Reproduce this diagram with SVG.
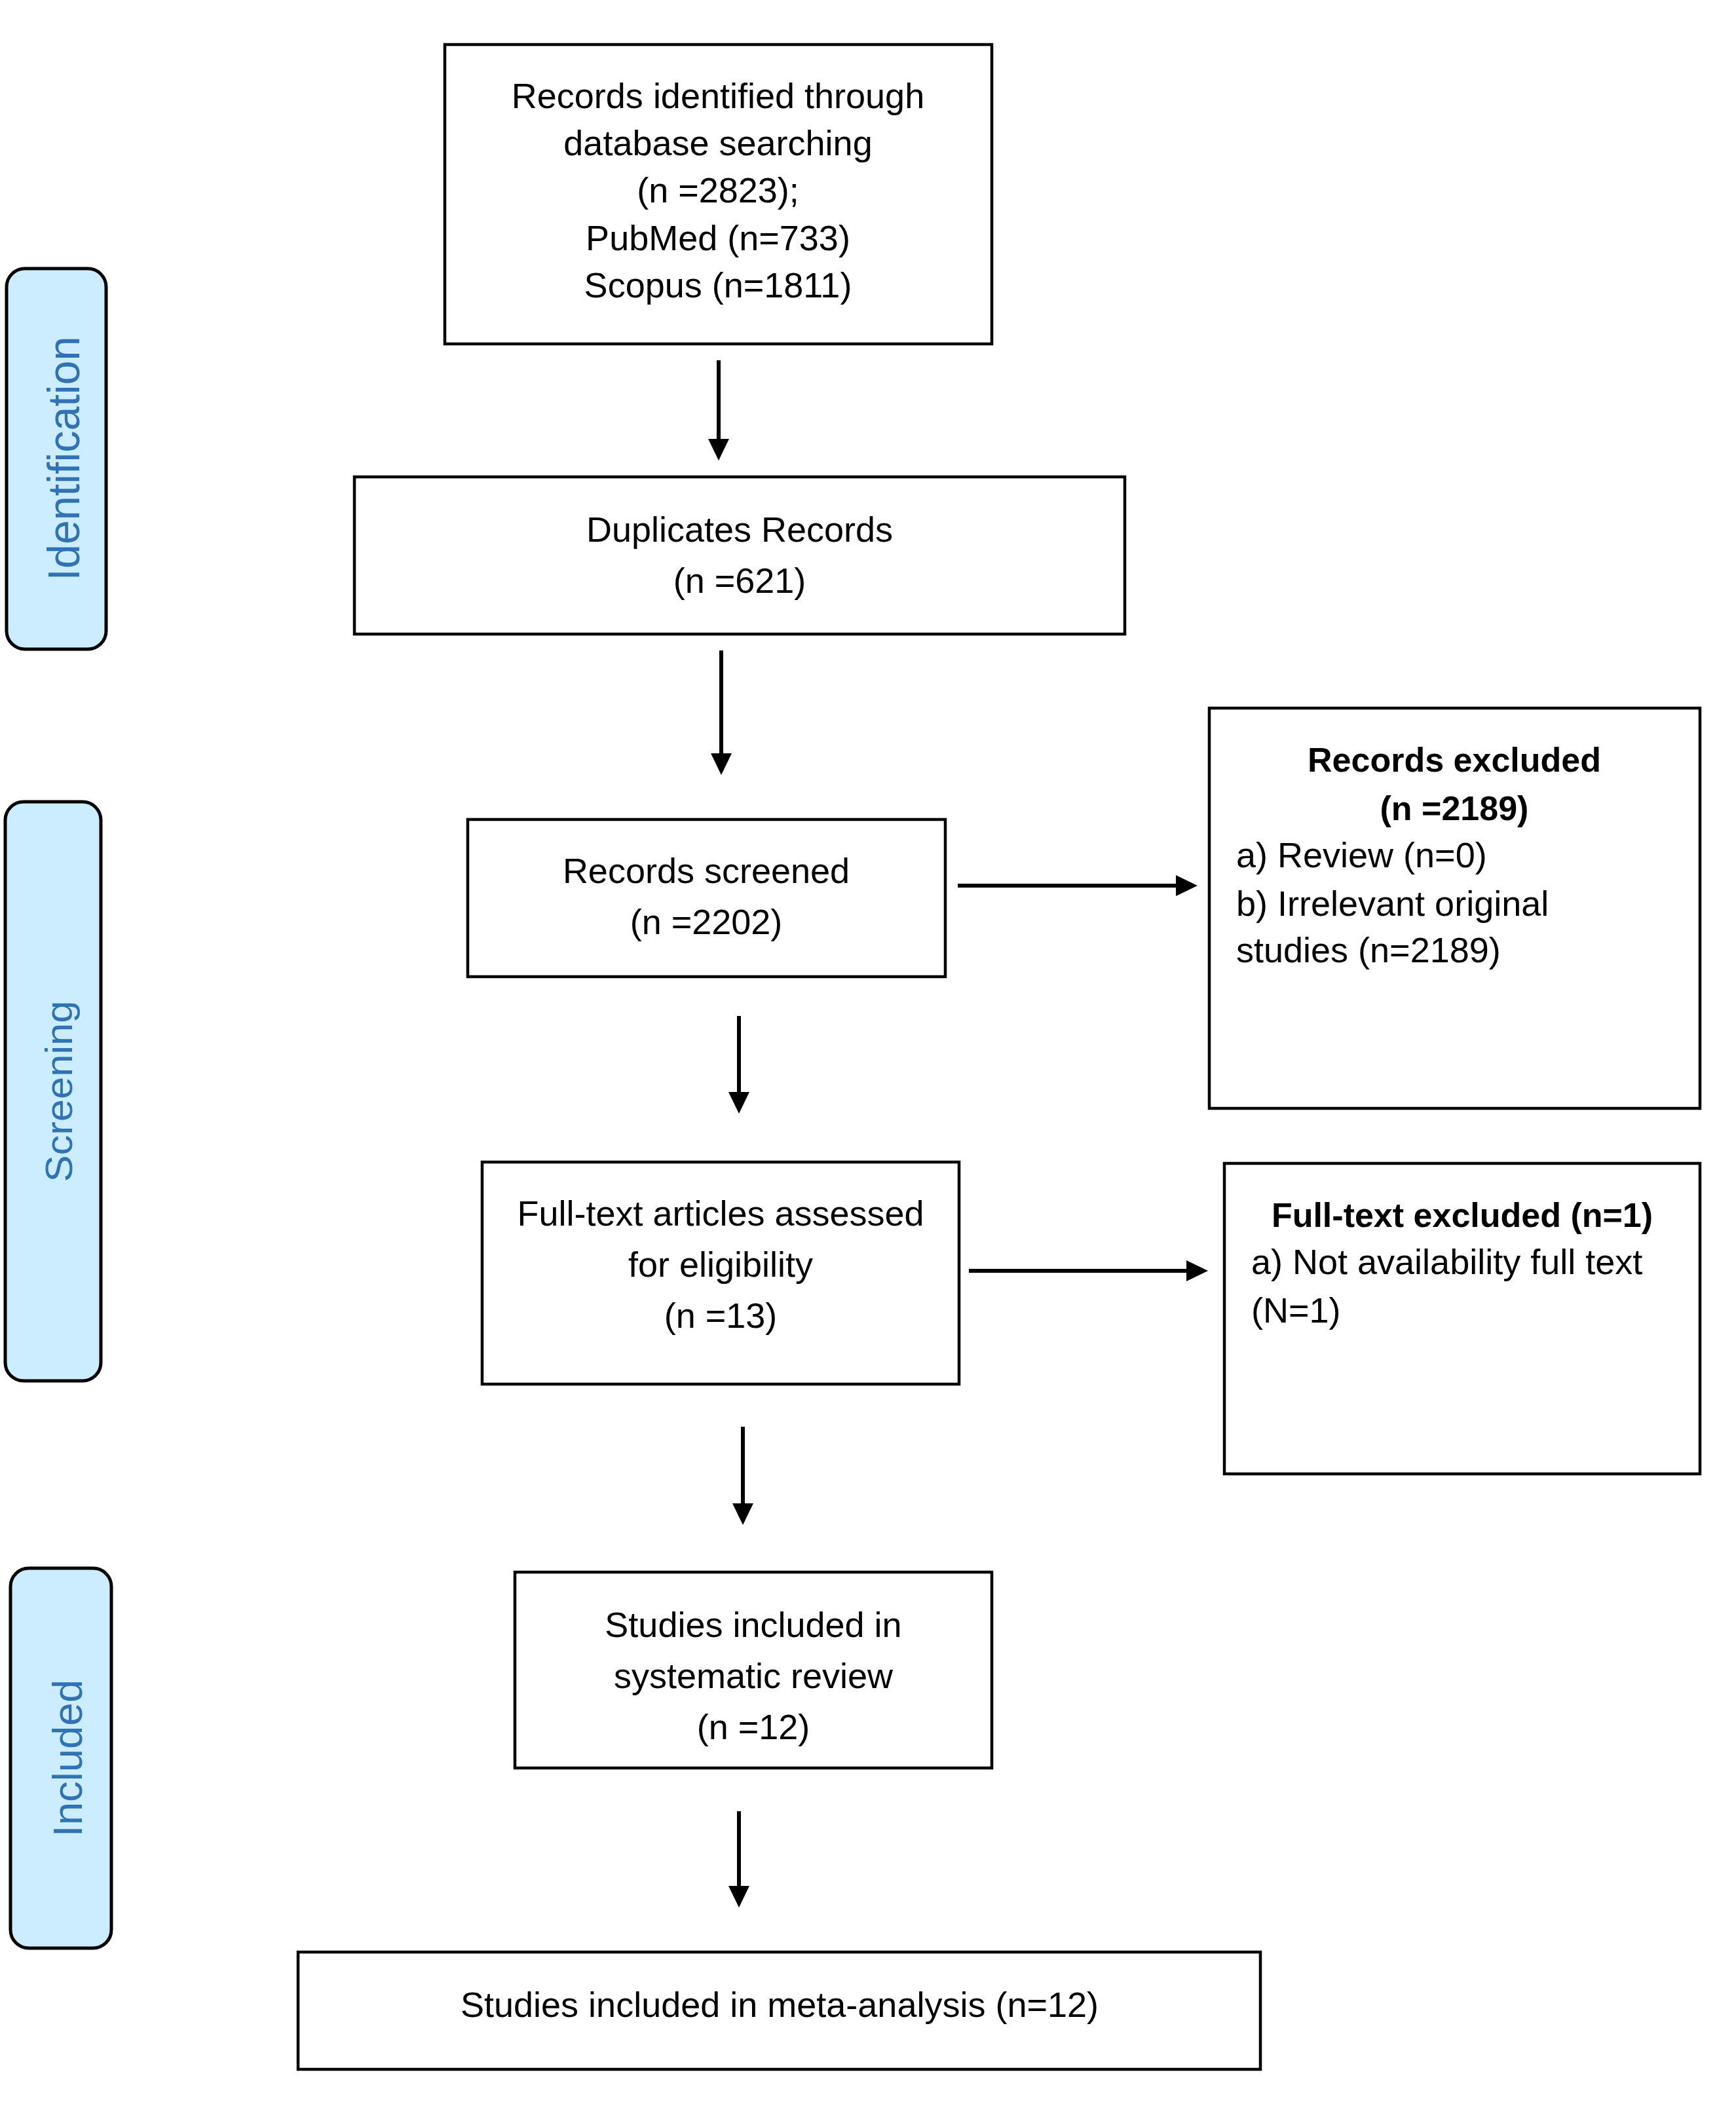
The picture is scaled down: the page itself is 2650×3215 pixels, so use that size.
<svg xmlns="http://www.w3.org/2000/svg" width="2650" height="3215" viewBox="0 0 2650 3215">
<style>
.box{fill:#ffffff;stroke:#000000;stroke-width:4.5}
.pill{fill:#CCECFF;stroke:#000000;stroke-width:5}
.t{font-family:"Liberation Sans",Arial,sans-serif;font-size:54px;fill:#000000}
.c{text-anchor:middle}
.b{font-weight:bold;font-size:52px}
.side{font-family:"Liberation Sans",Arial,sans-serif;fill:#2F73B6;text-anchor:middle}
.arr{stroke:#000000;stroke-width:6;fill:none;marker-end:url(#ah)}
</style>
<defs>
<marker id="ah" markerUnits="userSpaceOnUse" viewBox="0 0 33 32" markerWidth="33" markerHeight="32" refX="23" refY="16" orient="auto">
<path d="M0,0 L33,16 L0,32 z" fill="#000000"/>
</marker>
</defs>
<rect width="2650" height="3215" fill="#ffffff"/>

<g id="phase-identification">
<rect class="pill" x="10" y="410" width="152" height="581" rx="28"/>
<text class="side" font-size="69" textLength="373" lengthAdjust="spacingAndGlyphs" transform="translate(121,700) rotate(-90)">Identification</text>
</g>
<g id="phase-screening">
<rect class="pill" x="8" y="1224" width="146" height="884" rx="28"/>
<text class="side" font-size="58" textLength="277" lengthAdjust="spacingAndGlyphs" transform="translate(110,1666) rotate(-90)">Screening</text>
</g>
<g id="phase-included">
<rect class="pill" x="16" y="2394" width="154" height="580" rx="28"/>
<text class="side" font-size="63" textLength="240" lengthAdjust="spacingAndGlyphs" transform="translate(125,2684) rotate(-90)">Included</text>
</g>

<g id="node-identified">
<rect class="box" x="679" y="68" width="835" height="457"/>
<text class="t c" x="1096" y="165">Records identified through</text>
<text class="t c" x="1096" y="237">database searching</text>
<text class="t c" x="1096" y="309">(n =2823);</text>
<text class="t c" x="1096" y="382">PubMed (n=733)</text>
<text class="t c" x="1096" y="454">Scopus (n=1811)</text>
</g>

<g id="node-duplicates">
<rect class="box" x="541" y="728" width="1176" height="240"/>
<text class="t c" x="1129" y="827">Duplicates Records</text>
<text class="t c" x="1129" y="905">(n =621)</text>
</g>

<g id="node-screened">
<rect class="box" x="714" y="1251" width="729" height="240"/>
<text class="t c" x="1078" y="1348">Records screened</text>
<text class="t c" x="1078" y="1426">(n =2202)</text>
</g>

<g id="node-excluded">
<rect class="box" x="1846" y="1081" width="749" height="611"/>
<text class="t c b" x="2220" y="1178">Records excluded</text>
<text class="t c b" x="2220" y="1252">(n =2189)</text>
<text class="t" x="1887" y="1324">a) Review (n=0)</text>
<text class="t" x="1887" y="1398">b) Irrelevant original</text>
<text class="t" x="1887" y="1469">studies (n=2189)</text>
</g>

<g id="node-fulltext">
<rect class="box" x="736" y="1774" width="728" height="339"/>
<text class="t c" x="1100" y="1871">Full-text articles assessed</text>
<text class="t c" x="1100" y="1949">for eligibility</text>
<text class="t c" x="1100" y="2027">(n =13)</text>
</g>

<g id="node-fulltext-excluded">
<rect class="box" x="1869" y="1776" width="726" height="474"/>
<text class="t c b" x="2232" y="1873">Full-text excluded (n=1)</text>
<text class="t" x="1910" y="1945">a) Not availability full text</text>
<text class="t" x="1910" y="2019">(N=1)</text>
</g>

<g id="node-systematic">
<rect class="box" x="786" y="2400" width="728" height="299"/>
<text class="t c" x="1150" y="2499">Studies included in</text>
<text class="t c" x="1150" y="2577">systematic review</text>
<text class="t c" x="1150" y="2655">(n =12)</text>
</g>

<g id="node-meta">
<rect class="box" x="455" y="2980" width="1469" height="179"/>
<text class="t c" x="1190" y="3079">Studies included in meta-analysis (n=12)</text>
</g>

<g id="connectors">
<line class="arr" x1="1097" y1="550" x2="1097" y2="693"/>
<line class="arr" x1="1101" y1="993" x2="1101" y2="1173"/>
<line class="arr" x1="1128" y1="1551" x2="1128" y2="1690"/>
<line class="arr" x1="1134" y1="2178" x2="1134" y2="2318"/>
<line class="arr" x1="1128" y1="2765" x2="1128" y2="2902"/>
<line class="arr" x1="1462" y1="1352" x2="1818" y2="1352"/>
<line class="arr" x1="1479" y1="1940" x2="1834" y2="1940"/>
</g>
</svg>
